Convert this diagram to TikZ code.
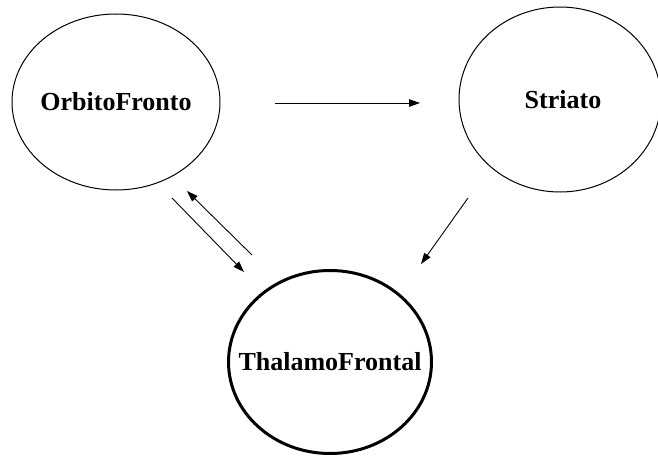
\documentclass[tikz,border=0pt]{standalone}
\usepackage{fontspec}
\setmainfont{Liberation Serif}
\usetikzlibrary{arrows.meta,shapes.geometric}
\begin{document}
\begin{tikzpicture}[x=1pt,y=-1pt,
  region/.style={ellipse,draw,line width=1pt,inner sep=0pt,outer sep=0pt},
  regiontext/.style={font=\fontsize{26}{30}\selectfont\bfseries,inner sep=0pt},
  link/.style={line width=0.9pt,-{Triangle[length=11pt,width=7.5pt]}}]
\useasboundingbox (0,0) rectangle (658,457);
\clip (0,0) rectangle (658,457);
\node[region,minimum width=208pt,minimum height=176pt] (orb) at (116,102) {};
\node[regiontext] (orbt) at (orb.center) {OrbitoFronto};
\node[region,minimum width=202pt,minimum height=185pt] (str) at (560,99.5) {};
\node[regiontext] (strt) at ([xshift=3pt]str.center) {Striato};
\node[region,line width=3pt,minimum width=203pt,minimum height=183pt] (tha) at (330,362) {};
\node[regiontext] (that) at (tha.center) {ThalamoFrontal};
\coordinate (a1) at (275,103);
\coordinate (a2) at (420,103);
\coordinate (b1) at (468,198);
\coordinate (b2) at (421,264);
\coordinate (c1) at (172,198);
\coordinate (c2) at (244,272);
\coordinate (d1) at (252,255);
\coordinate (d2) at (187,191);
\draw[link] (a1) -- (a2);
\draw[link] (b1) -- (b2);
\draw[link] (c1) -- (c2);
\draw[link] (d1) -- (d2);
\end{tikzpicture}
\end{document}
